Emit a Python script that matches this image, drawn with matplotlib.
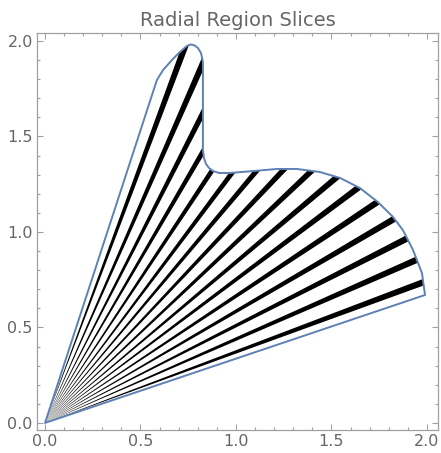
#!/usr/bin/env python3
"""Radial region slices: thin wedges from the origin clipped to a region."""
import numpy as np
import matplotlib.pyplot as plt
from matplotlib.patches import Polygon
from matplotlib.ticker import MultipleLocator

# Region boundary (x, y), going round from the origin
boundary_x = [0.0, 1.990, 1.974, 1.927, 1.874, 1.822, 1.743, 1.649, 1.545,
              1.440, 1.319, 1.215, 1.089, 0.969, 0.911, 0.880, 0.859, 0.843,
              0.832, 0.827, 0.827, 0.827, 0.827, 0.817, 0.801, 0.785, 0.764,
              0.743, 0.707, 0.665, 0.618, 0.586]
boundary_y = [0.0, 0.670, 0.785, 0.906, 1.010, 1.079, 1.157, 1.230, 1.283,
              1.314, 1.330, 1.330, 1.319, 1.309, 1.309, 1.319, 1.335, 1.356,
              1.387, 1.429, 1.623, 1.848, 1.890, 1.937, 1.963, 1.976, 1.982,
              1.974, 1.943, 1.901, 1.848, 1.796]

# Angles (degrees) of the black slices
slice_angles = [20.4, 23.7, 27.0, 30.3, 33.6, 36.9, 40.1, 43.4,
                46.7, 50.0, 53.2, 56.5, 59.8, 63.0, 66.3, 69.6]

outline_color = '#5e81b5'
text_color = '#666666'
frame_color = '#a0a0a0'

fig = plt.figure(figsize=(4.41, 4.53), dpi=100)
ax = fig.add_axes([37 / 441, 23 / 453, 401 / 441, 397 / 453])

region = Polygon(np.column_stack([boundary_x, boundary_y]), closed=True,
                 facecolor='none', edgecolor=outline_color, linewidth=1.4,
                 joinstyle='round', zorder=3)
ax.add_patch(region)

# Each slice is a thin wedge from the origin, clipped to the region
half_width = np.deg2rad(0.45)
reach = 3.0
for ang in slice_angles:
    t = np.deg2rad(ang)
    pts = [(0, 0),
           (reach * np.cos(t - half_width), reach * np.sin(t - half_width)),
           (reach * np.cos(t + half_width), reach * np.sin(t + half_width))]
    wedge = Polygon(pts, closed=True, facecolor='black', edgecolor='none',
                    zorder=2)
    ax.add_patch(wedge)
    wedge.set_clip_path(region)

ax.set_xlim(-0.042, 2.058)
ax.set_ylim(-0.037, 2.042)

ax.xaxis.set_major_locator(MultipleLocator(0.5))
ax.xaxis.set_minor_locator(MultipleLocator(0.1))
ax.yaxis.set_major_locator(MultipleLocator(0.5))
ax.yaxis.set_minor_locator(MultipleLocator(0.1))
ax.xaxis.set_major_formatter(lambda v, p: f'{v:.1f}')
ax.yaxis.set_major_formatter(lambda v, p: f'{v:.1f}')

ax.tick_params(which='both', direction='in', top=True, right=True,
               color=frame_color, labelcolor=text_color, labelsize=11.5,
               width=0.8)
ax.tick_params(which='major', length=4, pad=3)
ax.tick_params(which='minor', length=2.3)
for spine in ax.spines.values():
    spine.set_color(frame_color)
    spine.set_linewidth(0.9)

ax.set_title('Radial Region Slices', color=text_color, fontsize=14,
             pad=5)

plt.savefig('out.png', dpi=100)
print("Generated: out.png")
